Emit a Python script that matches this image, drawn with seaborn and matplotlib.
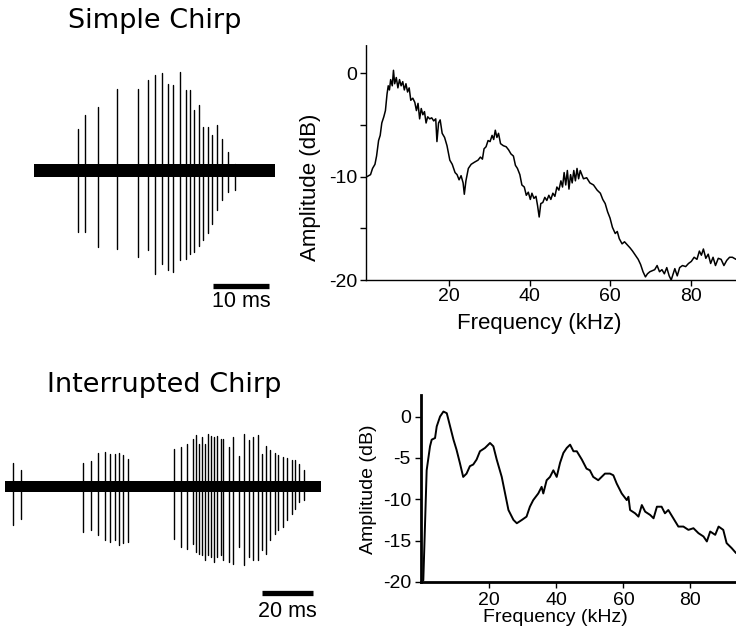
import numpy as np
import pandas as pd
import matplotlib
matplotlib.use("Agg")
import matplotlib.pyplot as plt
import seaborn as sns

# ---------------- data ----------------
# Simple chirp oscillogram: spike times (ms) and amplitudes (arbitrary units)
simple_spike_t = [7.86, 9.05, 11.43, 14.76, 18.51, 20.30, 21.55, 22.80, 23.87, 24.88,
                  26.13, 27.08, 27.86, 28.57, 29.46, 30.24, 31.13, 31.73, 32.62, 33.57,
                  34.58, 35.89]
simple_spike_up = [42, 56, 64, 82, 82, 91, 96, 98, 87, 86,
                   99, 81, 81, 61, 66, 44, 44, 36, 46, 32,
                   19, 7]
simple_spike_down = [61, 61, 76, 78, 86, 79, 103, 93, 99, 101,
                     89, 88, 83, 81, 75, 69, 62, 53, 39, 29,
                     21, 19]
simple_duration = 43.0
simple_scale_ms = 10

# Interrupted chirp oscillogram
inter_spike_t = [2.98, 6.20, 30.35, 33.33, 35.93, 38.76, 40.81, 42.64, 44.30, 45.85, 47.67,
                 65.50, 68.22, 70.66, 72.75, 73.91, 75.31, 76.24, 77.52, 78.80, 79.84,
                 81.01, 82.29, 83.60, 84.61, 86.82, 88.26, 90.58, 92.75, 94.69, 96.24,
                 97.95, 99.50, 101.16, 102.71, 104.65, 105.93, 107.87, 109.19, 111.12,
                 112.40, 114.07, 115.89]
inter_spike_up = [24, 17, 24, 26, 34, 35, 33, 33, 34, 32, 28,
                  38, 40, 43, 48, 52, 43, 50, 43, 53, 51,
                  50, 51, 48, 48, 40, 50, 31, 53, 47, 50,
                  52, 33, 41, 37, 34, 32, 30, 29, 27,
                  27, 23, 17]
inter_spike_down = [38, 32, 45, 43, 48, 53, 55, 53, 58, 56, 55,
                    52, 60, 62, 57, 65, 67, 68, 73, 68, 70,
                    75, 70, 68, 73, 75, 77, 60, 78, 70, 73,
                    73, 63, 67, 53, 47, 43, 40, 33, 27,
                    22, 15, 13]
inter_duration = 122.4
inter_scale_ms = 20

# Spectra
simple_freq = [-0.4, 0.5, 1.0, 1.6, 2.0, 2.5, 2.9, 3.3, 3.8, 4.2, 4.6, 4.9, 5.2, 5.5, 5.9,
               6.2, 6.5, 6.9, 7.3, 7.7, 8.1, 8.5, 8.9, 9.3, 9.7, 10.1, 10.5, 11.0, 11.5,
               11.9, 12.3, 12.7, 13.1, 13.5, 13.9, 14.3, 14.7, 15.2, 15.7, 16.2, 16.7,
               17.0, 17.4, 17.8, 18.3, 18.9, 19.5, 20.2, 20.8, 21.5, 22.0, 22.5, 23.0,
               23.5, 23.8, 24.2, 24.8, 25.5, 26.3, 27.2, 27.8, 28.3, 28.7, 29.2, 29.7,
               30.2, 30.7, 31.1, 31.5, 31.9, 32.3, 32.8, 33.5, 34.2, 34.8, 35.4, 36.0,
               36.5, 37.0, 37.6, 38.1, 38.7, 39.2, 39.7, 40.2, 40.6, 41.1, 41.6, 42.0,
               42.4, 42.8, 43.3, 43.8, 44.3, 44.8, 45.3, 45.8, 46.3, 46.8, 47.3, 47.8,
               48.2, 48.6, 49.0, 49.4, 49.8, 50.2, 50.6, 51.0, 51.4, 51.8, 52.2, 52.6,
               53.4, 54.2, 55.0, 55.9, 56.8, 57.6, 58.2, 58.8, 59.4, 60.0, 60.6, 61.3,
               61.8, 62.3, 63.0, 63.6, 64.3, 65.0, 65.6, 66.3, 67.0, 67.6, 68.2, 68.8,
               69.3, 69.9, 70.5, 71.1, 71.7, 72.3, 72.9, 73.5, 74.1, 74.7, 75.2, 75.6,
               76.1, 76.7, 77.3, 78.0, 78.8, 79.5, 80.2, 80.9, 81.6, 82.2, 82.7, 83.2,
               83.8, 84.4, 85.0, 85.6, 86.2, 86.9, 87.6, 88.3, 89.0, 89.7, 90.4, 91.3]
simple_amp = [-10.0, -9.8, -9.2, -8.8, -8.0, -6.5, -6.0, -4.8, -4.2, -3.6, -2.0, -1.2, -1.6, -0.6, -1.2,
              0.3, -1.0, -0.4, -1.4, -0.6, -1.2, -0.8, -1.6, -1.0, -1.8, -1.4, -2.6, -2.4, -2.8,
              -3.6, -2.9, -4.4, -3.4, -4.0, -3.7, -4.8, -4.2, -4.4, -4.3, -4.6, -4.4,
              -6.6, -4.8, -4.5, -5.8, -6.2, -7.0, -8.4, -8.8, -9.6, -9.8, -10.3, -9.9,
              -10.6, -11.7, -10.4, -9.2, -8.8, -8.6, -8.4, -8.1, -8.3, -7.3, -7.1, -6.5,
              -6.6, -6.0, -6.4, -5.5, -6.2, -5.8, -6.8, -7.0, -7.1, -7.4, -7.8, -8.0,
              -8.9, -9.2, -9.8, -10.8, -11.0, -11.8, -11.5, -12.2, -11.6, -12.1, -11.9, -12.8,
              -13.9, -12.6, -12.5, -12.0, -12.3, -11.8, -12.2, -11.6, -11.9, -11.0, -11.3, -10.4,
              -11.0, -9.6, -10.8, -9.4, -11.2, -9.8, -10.6, -9.4, -10.4, -9.2, -10.2, -9.4,
              -10.2, -10.1, -10.6, -10.8, -11.3, -11.6, -12.2, -12.6, -13.4, -14.0, -14.9, -15.5,
              -15.3, -16.0, -16.5, -16.3, -16.6, -16.9, -17.2, -17.6, -18.0, -18.5, -19.2, -19.7,
              -19.4, -19.2, -19.1, -19.0, -18.6, -19.2, -19.0, -19.4, -18.8, -19.6, -20.0, -19.5,
              -18.9, -19.6, -18.8, -18.6, -18.7, -18.4, -18.2, -17.8, -18.0, -17.2, -17.6, -17.0,
              -17.9, -17.5, -18.4, -17.8, -18.6, -17.9, -18.0, -18.6, -18.1, -17.8, -17.8, -18.0]

inter_freq = [0.3, 1.3, 2.3, 2.8, 3.8, 4.3, 5.3, 6.3, 7.3, 8.3, 9.3, 10.2, 11.2, 12.2, 13.2,
              14.2, 15.2, 16.2, 17.2, 18.7, 20.2, 21.2, 22.2, 23.7, 24.7, 25.7, 27.2, 28.2,
              29.7, 31.1, 32.1, 33.1, 34.6, 35.6, 36.1, 37.1, 38.1, 39.1, 40.1, 41.1, 42.1,
              43.1, 44.1, 45.1, 46.1, 47.6, 49.0, 50.0, 51.0, 52.5, 53.5, 54.5, 56.0, 57.0,
              58.0, 59.5, 61.0, 61.5, 62.0, 63.5, 64.5, 65.5, 66.5, 68.0, 69.0, 70.0, 71.4,
              72.4, 73.4, 74.9, 76.4, 77.9, 79.4, 80.9, 82.4, 83.9, 84.9, 85.9, 87.4, 88.4,
              89.8, 90.8, 92.3, 93.6]
inter_amp = [-19.8, -6.5, -3.6, -2.8, -2.6, -1.2, 0.0, 0.6, 0.4, -1.2, -2.8, -4.0, -5.6, -7.3, -6.9,
             -6.0, -5.8, -5.2, -4.2, -3.8, -3.2, -3.6, -5.2, -7.3, -9.3, -11.3, -12.5, -12.9,
             -12.5, -12.1, -10.9, -10.1, -9.3, -8.5, -9.3, -7.7, -7.3, -6.5, -7.3, -5.6, -4.4,
             -3.8, -3.4, -4.2, -4.2, -5.2, -6.3, -6.5, -7.3, -7.7, -7.3, -6.9, -6.9, -7.1,
             -8.1, -9.3, -10.1, -9.7, -11.3, -11.7, -12.1, -10.7, -11.5, -11.9, -12.3, -10.9, -10.9,
             -11.7, -11.3, -12.3, -13.3, -13.3, -13.7, -13.5, -14.1, -14.5, -15.1, -13.9, -14.3, -13.3,
             -13.7, -15.3, -15.9, -16.5]

freq_ticks = [20, 40, 60, 80]
simple_amp_ticks = [0, -10, -20]
inter_amp_ticks = [0, -5, -10, -15, -20]

# ---------------- style ----------------
sns.set_theme(style="white")
plt.rcParams["font.family"] = ["Liberation Sans", "DejaVu Sans"]
plt.rcParams["axes.unicode_minus"] = False
for k in ["text.color", "axes.labelcolor", "xtick.color", "ytick.color", "axes.edgecolor"]:
    plt.rcParams[k] = "black"

W, H = 736, 633
fig = plt.figure(figsize=(W / 100, H / 100), dpi=100)


def ax_px(l, t, r, b):
    return fig.add_axes([l / W, 1 - b / H, (r - l) / W, (b - t) / H])


def spikes_frame(t, up, down):
    rows = []
    for i, (tt, u, d) in enumerate(zip(t, up, down)):
        rows.append({"t": tt, "v": -d, "id": i})
        rows.append({"t": tt, "v": u, "id": i})
    return pd.DataFrame(rows)


def draw_wave(ax, t, up, down, duration, band, scale_ms, bar_end, bar_y, text_y):
    ax.fill_between([0, duration], [-band, -band], [band, band], color="black", lw=0)
    df = spikes_frame(t, up, down)
    sns.lineplot(data=df, x="t", y="v", units="id", estimator=None, sort=False,
                 color="black", lw=1.0, ax=ax, legend=False)
    ax.plot([bar_end - scale_ms, bar_end], [bar_y, bar_y], color="black", lw=3.8,
            solid_capstyle="butt")
    ax.text(bar_end - scale_ms / 2, text_y, f"{scale_ms} ms", ha="center", va="center",
            fontsize=15.5, color="black")
    ax.set_xlim(0, duration)
    ax.axis("off")


# top-left oscillogram
ax1 = ax_px(34, 55, 275, 312)
ax1.set_ylim(-141.3, 115.7)
draw_wave(ax1, simple_spike_t, simple_spike_up, simple_spike_down, simple_duration,
          6.3, simple_scale_ms, 42.0, -115.0, -130.5)

# bottom-left oscillogram
ax3 = ax_px(5, 420, 320.7, 625)
ax3.set_ylim(-138.5, 66.5)
draw_wave(ax3, inter_spike_t, inter_spike_up, inter_spike_down, inter_duration,
          5.8, inter_scale_ms, 119.5, -106.5, -125.0)

# top-right spectrum
ax2 = ax_px(365.7, 45, 736, 280)
sns.lineplot(x=simple_freq, y=simple_amp, color="black", lw=1.1, ax=ax2, sort=False)
ax2.set_xlim(-0.7, 91.3)
ax2.set_ylim(-20, 2.75)
ax2.set_xticks(freq_ticks)
ax2.set_yticks(simple_amp_ticks)
ax2.set_yticks([-5, -15], minor=True)
for s in ["top", "right"]:
    ax2.spines[s].set_visible(False)
for s in ["left", "bottom"]:
    ax2.spines[s].set_linestyle((0, (1, 1)))
    ax2.spines[s].set_linewidth(1.0)
    ax2.spines[s].set_color("black")
ax2.tick_params(axis="both", which="both", direction="out", length=4, width=1,
                color="black", labelcolor="black", labelsize=14, pad=2, bottom=True, left=True)
ax2.set_xlabel("Frequency (kHz)", fontsize=16, color="black")
ax2.set_ylabel("Amplitude (dB)", fontsize=16, color="black")
ax2.xaxis.set_label_coords(0.47, -0.183)
ax2.yaxis.set_label_coords(-0.150, 0.396)
ax2.xaxis.label.set_va("center")
ax2.yaxis.label.set_va("center")

# bottom-right spectrum
ax4 = ax_px(420.7, 395, 736, 582)
sns.lineplot(x=inter_freq, y=inter_amp, color="black", lw=1.4, ax=ax4, sort=False)
ax4.set_xlim(-0.48, 93.6)
ax4.set_ylim(-20, 2.6)
ax4.set_xticks(freq_ticks)
ax4.set_yticks(inter_amp_ticks)
for s in ["top", "right"]:
    ax4.spines[s].set_visible(False)
for s in ["left", "bottom"]:
    ax4.spines[s].set_linewidth(2.0)
    ax4.spines[s].set_color("black")
ax4.tick_params(axis="both", which="both", direction="out", length=4, width=1,
                color="black", labelcolor="black", labelsize=14, pad=3, bottom=True, left=True)
ax4.set_xlabel("Frequency (kHz)", fontsize=14, color="black")
ax4.set_ylabel("Amplitude (dB)", fontsize=14, color="black")
ax4.xaxis.set_label_coords(0.426, -0.189)
ax4.yaxis.set_label_coords(-0.166, 0.497)
ax4.xaxis.label.set_va("center")
ax4.yaxis.label.set_va("center")

# panel titles
fig.text(155 / W, 1 - 28 / H, "Simple Chirp", ha="center", va="baseline",
         fontsize=19.5, family="DejaVu Sans", color="black")
fig.text(164 / W, 1 - 391.5 / H, "Interrupted Chirp", ha="center", va="baseline",
         fontsize=19.5, family="DejaVu Sans", color="black")

fig.savefig("out.png", dpi=100)
